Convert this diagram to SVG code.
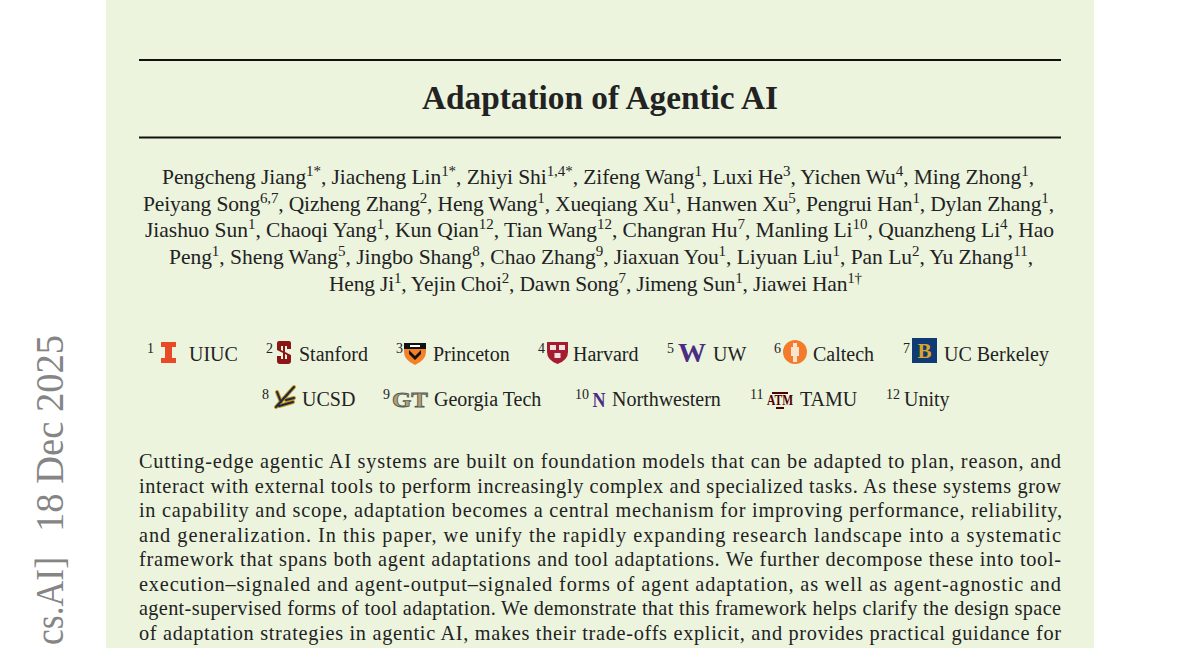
<svg xmlns="http://www.w3.org/2000/svg" width="1200" height="648" viewBox="0 0 1200 648">
<style>
.serif{font-family:"Liberation Serif","Times New Roman",serif;fill:#222}
.au{font-size:21.5px}
.s{font-size:15px}
.ab{font-size:20.3px}
.af{font-size:20px}
.afs{font-size:14px}
.rule{stroke:#111;stroke-width:2}
.margin{font-family:"Liberation Serif","Times New Roman",serif;fill:#858585;font-size:40px}
</style>
<rect x="0" y="0" width="1200" height="648" fill="#ffffff"/>
<rect x="106" y="0" width="988" height="648" fill="#ecf4de"/>
<text class="margin" x="63" y="335" text-anchor="end" textLength="197" lengthAdjust="spacingAndGlyphs" transform="rotate(-90 63 335)">18 Dec 2025</text>
<text class="margin" x="63" y="557" text-anchor="end" textLength="88" lengthAdjust="spacingAndGlyphs" transform="rotate(-90 63 557)">cs.AI]</text>
<g id="title">
<line class="rule" x1="139" y1="60" x2="1061" y2="60"/>
<text class="serif" x="600" y="108.5" font-size="33.3" font-weight="bold" text-anchor="middle">Adaptation of Agentic AI</text>
<line class="rule" x1="139" y1="137.5" x2="1061" y2="137.5"/>
</g>
<g id="authors" class="serif au">
<text x="162" y="184" textLength="872" lengthAdjust="spacing">Pengcheng Jiang<tspan class="s" dy="-8">1*</tspan><tspan dy="8">, Jiacheng Lin</tspan><tspan class="s" dy="-8">1*</tspan><tspan dy="8">, Zhiyi Shi</tspan><tspan class="s" dy="-8">1,4*</tspan><tspan dy="8">, Zifeng Wang</tspan><tspan class="s" dy="-8">1</tspan><tspan dy="8">, Luxi He</tspan><tspan class="s" dy="-8">3</tspan><tspan dy="8">, Yichen Wu</tspan><tspan class="s" dy="-8">4</tspan><tspan dy="8">, Ming Zhong</tspan><tspan class="s" dy="-8">1</tspan><tspan dy="8">,</tspan></text>
<text x="143" y="210.7" textLength="911" lengthAdjust="spacing">Peiyang Song<tspan class="s" dy="-8">6,7</tspan><tspan dy="8">, Qizheng Zhang</tspan><tspan class="s" dy="-8">2</tspan><tspan dy="8">, Heng Wang</tspan><tspan class="s" dy="-8">1</tspan><tspan dy="8">, Xueqiang Xu</tspan><tspan class="s" dy="-8">1</tspan><tspan dy="8">, Hanwen Xu</tspan><tspan class="s" dy="-8">5</tspan><tspan dy="8">, Pengrui Han</tspan><tspan class="s" dy="-8">1</tspan><tspan dy="8">, Dylan Zhang</tspan><tspan class="s" dy="-8">1</tspan><tspan dy="8">,</tspan></text>
<text x="145" y="237.4" textLength="909" lengthAdjust="spacing">Jiashuo Sun<tspan class="s" dy="-8">1</tspan><tspan dy="8">, Chaoqi Yang</tspan><tspan class="s" dy="-8">1</tspan><tspan dy="8">, Kun Qian</tspan><tspan class="s" dy="-8">12</tspan><tspan dy="8">, Tian Wang</tspan><tspan class="s" dy="-8">12</tspan><tspan dy="8">, Changran Hu</tspan><tspan class="s" dy="-8">7</tspan><tspan dy="8">, Manling Li</tspan><tspan class="s" dy="-8">10</tspan><tspan dy="8">, Quanzheng Li</tspan><tspan class="s" dy="-8">4</tspan><tspan dy="8">, Hao</tspan></text>
<text x="169" y="264.1" textLength="864" lengthAdjust="spacing">Peng<tspan class="s" dy="-8">1</tspan><tspan dy="8">, Sheng Wang</tspan><tspan class="s" dy="-8">5</tspan><tspan dy="8">, Jingbo Shang</tspan><tspan class="s" dy="-8">8</tspan><tspan dy="8">, Chao Zhang</tspan><tspan class="s" dy="-8">9</tspan><tspan dy="8">, Jiaxuan You</tspan><tspan class="s" dy="-8">1</tspan><tspan dy="8">, Liyuan Liu</tspan><tspan class="s" dy="-8">1</tspan><tspan dy="8">, Pan Lu</tspan><tspan class="s" dy="-8">2</tspan><tspan dy="8">, Yu Zhang</tspan><tspan class="s" dy="-8">11</tspan><tspan dy="8">,</tspan></text>
<text x="329" y="290.8" textLength="533" lengthAdjust="spacing">Heng Ji<tspan class="s" dy="-8">1</tspan><tspan dy="8">, Yejin Choi</tspan><tspan class="s" dy="-8">2</tspan><tspan dy="8">, Dawn Song</tspan><tspan class="s" dy="-8">7</tspan><tspan dy="8">, Jimeng Sun</tspan><tspan class="s" dy="-8">1</tspan><tspan dy="8">, Jiawei Han</tspan><tspan class="s" dy="-8">1†</tspan></text>
</g>
<g id="affiliations">
<g id="aff-uiuc">
<text class="serif afs" x="147" y="353">1</text>
<path d="M161 342h15v5h-4v11h4v5h-15v-5h4v-11h-4z" fill="#e84a27"/>
<text class="serif af" x="189" y="360.7">UIUC</text>
</g>
<g id="aff-stanford">
<text class="serif afs" x="266" y="353">2</text>
<path d="M277 343q0-2 2-2h10q2 0 2 2v6h-4v-3h-6v4l10 5v6q0 3-3 3h-8q-3 0-3-3v-5h4v3h6v-4l-10-5z" fill="#8c1515"/>
<line x1="284" y1="346" x2="284" y2="363" stroke="#8c1515" stroke-width="2"/>
<text class="serif af" x="299" y="360.7">Stanford</text>
</g>
<g id="aff-princeton">
<text class="serif afs" x="396" y="353">3</text>
<path d="M404 343h22v9q0 8-11 13q-11-5-11-13z" fill="#f58025"/>
<path d="M404 343h22v6h-22z" fill="#111"/>
<path d="M409 350l6 6 6-6v4l-6 6-6-6z" fill="#111"/>
<path d="M410 345h10v2h-10z" fill="#fff"/>
<text class="serif af" x="433" y="360.7">Princeton</text>
</g>
<g id="aff-harvard">
<text class="serif afs" x="538" y="353">4</text>
<path d="M547 342h21v10q0 8-10.5 12q-10.5-4-10.5-12z" fill="#a51c30"/>
<rect x="550" y="345" width="6" height="5" fill="#f2e3e3"/>
<rect x="559" y="345" width="6" height="5" fill="#f2e3e3"/>
<rect x="554.5" y="353" width="6" height="5" fill="#f2e3e3"/>
<text class="serif af" x="573" y="360.7">Harvard</text>
</g>
<g id="aff-uw">
<text class="serif afs" x="667" y="353">5</text>
<text x="692" y="362" font-family="Liberation Serif,serif" font-size="27" font-weight="bold" fill="#4b2e83" text-anchor="middle" textLength="28" lengthAdjust="spacingAndGlyphs">W</text>
<text class="serif af" x="713" y="360.7">UW</text>
</g>
<g id="aff-caltech">
<text class="serif afs" x="774" y="353">6</text>
<circle cx="795" cy="352" r="12" fill="#f47b2a"/>
<path d="M793 343h4v4h2v9h-2v6h-4v-6h-2v-9h2z" fill="#fbe3d0"/>
<text class="serif af" x="813" y="360.7">Caltech</text>
</g>
<g id="aff-berkeley">
<text class="serif afs" x="903" y="353">7</text>
<rect x="912" y="338" width="25" height="25" fill="#0f3a73"/>
<text x="924.5" y="358" font-family="Liberation Serif,serif" font-size="21" font-weight="bold" fill="#d9a42b" text-anchor="middle">B</text>
<text class="serif af" x="944" y="360.7">UC Berkeley</text>
</g>
<g id="aff-ucsd">
<text class="serif afs" x="262" y="399">8</text>
<g stroke="#c69214" stroke-width="4" stroke-linecap="round" fill="none">
<path d="M276 407l18-20M281 402l-4-10M286 400l8-2M279 406l14-4"/>
</g>
<g stroke="#182b49" stroke-width="2" stroke-linecap="round" fill="none">
<path d="M276 407l18-20M281 402l-4-10M286 400l8-2M279 406l14-4"/>
</g>
<text class="serif af" x="302" y="406">UCSD</text>
</g>
<g id="aff-gt">
<text class="serif afs" x="383" y="399">9</text>
<text x="410" y="407" font-family="Liberation Serif,serif" font-size="22" font-weight="bold" fill="#b3a369" stroke="#54585a" stroke-width="0.8" text-anchor="middle" textLength="36" lengthAdjust="spacingAndGlyphs">GT</text>
<text class="serif af" x="434" y="406">Georgia Tech</text>
</g>
<g id="aff-nw">
<text class="serif afs" x="575" y="399">10</text>
<text x="599" y="407" font-family="Liberation Serif,serif" font-size="22" font-weight="bold" fill="#4e2a84" text-anchor="middle" textLength="13" lengthAdjust="spacingAndGlyphs">N</text>
<text class="serif af" x="612" y="406">Northwestern</text>
</g>
<g id="aff-tamu">
<text class="serif afs" x="750" y="399">11</text>
<text x="780" y="405" font-family="Liberation Serif,serif" font-size="15" font-weight="bold" fill="#500000" text-anchor="middle" textLength="26" lengthAdjust="spacingAndGlyphs">ATM</text>
<line x1="772" y1="393" x2="788" y2="393" stroke="#500000" stroke-width="2"/>
<line x1="776" y1="408" x2="784" y2="408" stroke="#500000" stroke-width="2"/>
<text class="serif af" x="800" y="406">TAMU</text>
</g>
<g id="aff-unity">
<text class="serif afs" x="886" y="399">12</text>
<text class="serif af" x="904" y="406">Unity</text>
</g>
</g>
<g id="abstract" class="serif ab">
<text x="139" y="468" textLength="922" lengthAdjust="spacing">Cutting-edge agentic AI systems are built on foundation models that can be adapted to plan, reason, and</text>
<text x="139" y="492.5" textLength="922" lengthAdjust="spacing">interact with external tools to perform increasingly complex and specialized tasks. As these systems grow</text>
<text x="139" y="517" textLength="923" lengthAdjust="spacing">in capability and scope, adaptation becomes a central mechanism for improving performance, reliability,</text>
<text x="139" y="541.5" textLength="922" lengthAdjust="spacing">and generalization. In this paper, we unify the rapidly expanding research landscape into a systematic</text>
<text x="139" y="566" textLength="922" lengthAdjust="spacing">framework that spans both agent adaptations and tool adaptations. We further decompose these into tool-</text>
<text x="139" y="590.5" textLength="922" lengthAdjust="spacing">execution–signaled and agent-output–signaled forms of agent adaptation, as well as agent-agnostic and</text>
<text x="139" y="615" textLength="922" lengthAdjust="spacing">agent-supervised forms of tool adaptation. We demonstrate that this framework helps clarify the design space</text>
<text x="139" y="639.5" textLength="922" lengthAdjust="spacing">of adaptation strategies in agentic AI, makes their trade-offs explicit, and provides practical guidance for</text>
</g>
</svg>
